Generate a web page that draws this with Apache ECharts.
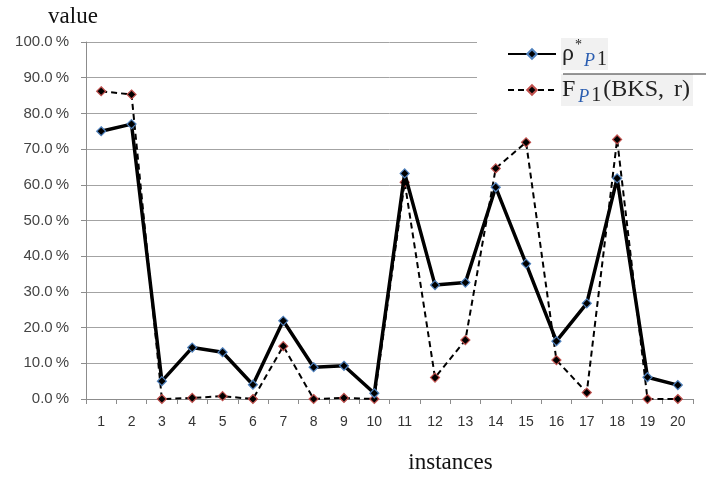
<!DOCTYPE html>
<html>
<head>
<meta charset="utf-8">
<script src="https://cdn.jsdelivr.net/npm/echarts@6/dist/echarts.min.js"></script>
<style>
  html, body { margin: 0; padding: 0; background: #fff; }
  #chart { width: 706px; height: 479px; }
</style>
</head>
<body>
<div id="chart"></div>
<script>
// instances 1..20
var categories = ['1', '2', '3', '4', '5', '6', '7', '8', '9', '10',
  '11', '12', '13', '14', '15', '16', '17', '18', '19', '20'];
// rho*_P1 (solid), in %
var rhoValues = [75.0, 77.0, 5.0, 14.4, 13.1, 4.0, 21.9, 8.9, 9.3, 1.6,
  63.2, 31.9, 32.6, 59.3, 37.9, 16.2, 26.8, 61.8, 6.1, 3.9];
// F_P1(BKS, r) (dashed), in %
var fValues = [86.2, 85.3, 0.0, 0.3, 0.8, 0.0, 14.8, 0.0, 0.3, 0.0,
  60.7, 6.0, 16.5, 64.6, 71.9, 10.9, 1.8, 72.7, 0.0, 0.0];
var yTicks = { min: 0, max: 100, step: 10 };

var chart = echarts.init(document.getElementById('chart'));

var option = {
  backgroundColor: '#fff',
  animation: false,
  grid: { left: 86, right: 13, top: 42, bottom: 80 },
  xAxis: {
    type: 'category',
    data: categories,
    name: 'instances',
    nameLocation: 'middle',
    nameGap: 52,
    nameTextStyle: {
      fontFamily: 'Liberation Serif', fontSize: 23, color: '#111',
      padding: [0, 0, 0, 122]
    },
    axisLine: { lineStyle: { color: '#8c8c8c', width: 1 } },
    axisTick: { show: true, length: 5, lineStyle: { color: '#8c8c8c' } },
    axisLabel: { fontFamily: 'Liberation Sans', fontSize: 14, color: '#333', margin: 16 }
  },
  yAxis: {
    type: 'value',
    min: yTicks.min,
    max: yTicks.max,
    interval: yTicks.step,
    name: 'value',
    nameGap: 14,
    nameTextStyle: {
      fontFamily: 'Liberation Serif', fontSize: 23, color: '#111',
      align: 'center', padding: [0, 26, 0, 0]
    },
    axisLine: { show: true, lineStyle: { color: '#8c8c8c', width: 1 } },
    axisTick: { show: true, length: 5, lineStyle: { color: '#8c8c8c' } },
    splitLine: { lineStyle: { color: '#a3a3a3', width: 1 } },
    axisLabel: {
      fontFamily: 'Liberation Sans', fontSize: 15, color: '#444', margin: 17,
      formatter: function (v) { return v.toFixed(1) + '\u2009%'; }
    }
  },
  legend: {
    orient: 'vertical',
    left: 477,
    top: 36,
    padding: [2, 60, 12, 30],
    itemGap: 4,
    itemWidth: 48,
    itemHeight: 12,
    backgroundColor: '#fff',
    data: ['rho', 'F'],
    formatter: function (name) {
      if (name === 'rho') return '{g|ρ}{st|*}{it|P}{n|1}';
      return '{g|F}{it|P}{n|1}{g|(BKS,}{r|r)}';
    },
    textStyle: {
      backgroundColor: '#f1f1f1',
      rich: {
        g: { fontFamily: 'Liberation Serif', fontSize: 24, color: '#222', lineHeight: 32, verticalAlign: 'middle', padding: [0, 1, 0, 1] },
        r: { fontFamily: 'Liberation Serif', fontSize: 24, color: '#222', lineHeight: 32, verticalAlign: 'middle', padding: [0, 3, 0, 9] },
        st: { fontFamily: 'Liberation Serif', fontSize: 14, color: '#222', verticalAlign: 'top', padding: [0, 0, 14, 0] },
        it: { fontFamily: 'Liberation Serif', fontSize: 18, fontStyle: 'italic', color: '#2a5db0', verticalAlign: 'bottom', padding: [9, 2, 0, 2] },
        n: { fontFamily: 'Liberation Serif', fontSize: 20, color: '#222', verticalAlign: 'bottom', padding: [9, 1, 0, 0] }
      }
    }
  },
  graphic: [{
    type: 'line',
    z: 100,
    shape: { x1: 563, y1: 74, x2: 706, y2: 74 },
    style: { stroke: '#333', lineWidth: 1.2 }
  }],
  series: [{
    name: 'rho',
    type: 'line',
    data: rhoValues,
    symbol: 'diamond',
    symbolSize: 9,
    lineStyle: { color: '#000', width: 3.5 },
    itemStyle: { color: '#000', borderColor: '#4f81bd', borderWidth: 1.2 },
    z: 3
  }, {
    name: 'F',
    type: 'line',
    data: fValues,
    symbol: 'diamond',
    symbolSize: 9,
    lineStyle: { color: '#000', width: 2, type: [6, 4] },
    itemStyle: { color: '#000', borderColor: '#c0504d', borderWidth: 1.2 },
    z: 2
  }]
};
chart.setOption(option);
</script>
</body>
</html>
